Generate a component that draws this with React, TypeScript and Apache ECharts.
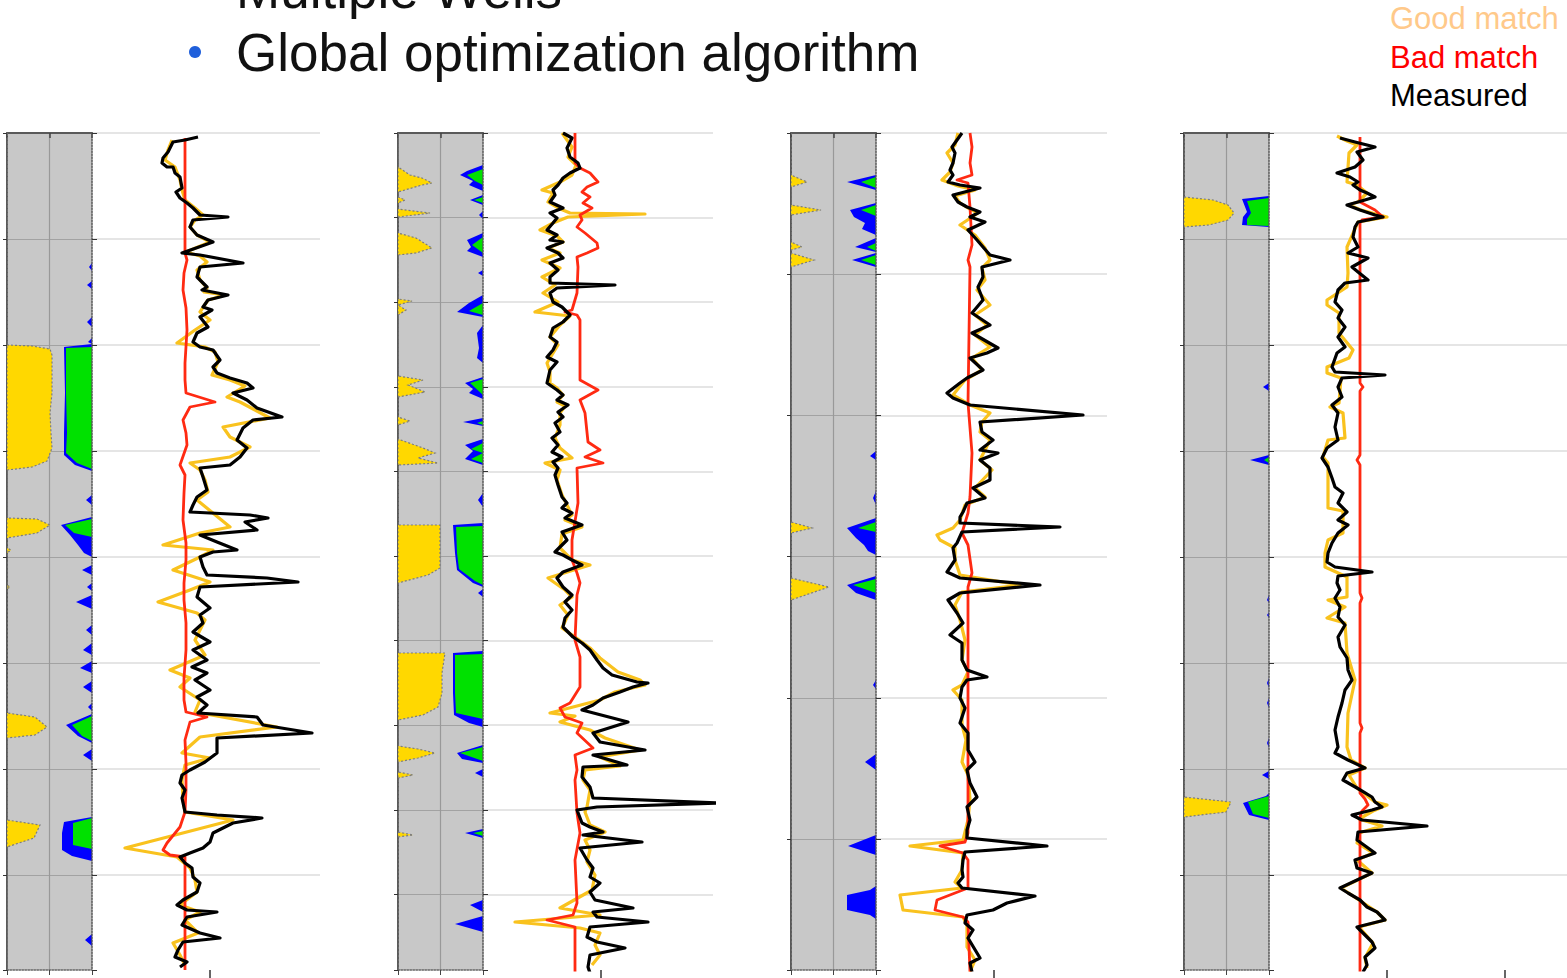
import React, { useEffect, useRef } from 'react';
import * as echarts from 'echarts';

// ---------------------------------------------------------------------------
// Log data. Depth is measured downward from the top of the logged interval
// (0..837). Log values are in track units (one vertical grid division = 118).
// Gray-track profiles are widths from the left edge (yellow) or from the right
// edge (blue / green) of an 85-unit wide track.
// ---------------------------------------------------------------------------

const depthMax = 837;
const depthStep = [106, 84.6, 141.2, 106];
const logMax = [228, 230, 231, 298];
const logStep = 118;
const grayMax = 85;

// ---- Well 1 ----
const w1Measured = [[106,4],[93,7],[81,9],[76,19],[71,25],[70,30],[75,34],[81,34],[83,40],[88,44],[90,55],[84,59],[88,65],[95,70],[101,75],[108,82],[136,84],[101,87],[98,94],[105,102],[121,109],[90,120],[108,122],[151,130],[108,134],[105,144],[115,154],[110,157],[136,162],[116,167],[111,174],[120,177],[108,184],[116,194],[105,200],[101,209],[108,214],[121,217],[128,227],[121,234],[125,240],[138,245],[155,250],[161,255],[141,260],[155,267],[165,275],[190,284],[161,287],[151,295],[145,307],[155,315],[148,324],[138,332],[108,335],[111,344],[115,357],[105,364],[101,372],[98,379],[158,382],[176,385],[153,389],[165,397],[108,402],[125,409],[145,417],[121,419],[108,424],[111,434],[115,442],[175,445],[206,449],[108,454],[105,464],[118,475],[108,482],[111,490],[101,499],[118,509],[101,517],[115,527],[100,534],[115,540],[103,547],[118,557],[105,564],[115,572],[106,580],[165,584],[171,592],[220,600],[125,605],[125,620],[113,629],[98,637],[90,642],[88,650],[93,657],[90,665],[93,679],[125,682],[170,685],[141,690],[121,700],[118,709],[111,715],[98,720],[88,724],[93,730],[100,735],[101,744],[108,750],[105,759],[91,767],[85,772],[95,777],[125,779],[95,784],[90,792],[108,800],[128,805],[91,809],[86,817],[83,824],[95,829],[88,834]];
const w1Good = [[80,7],[76,17],[73,27],[83,34],[88,47],[90,57],[93,67],[103,75],[111,82],[103,87],[98,94],[105,102],[118,109],[94,119],[108,123],[115,129],[105,137],[108,147],[115,155],[112,159],[133,162],[116,167],[108,179],[118,187],[103,197],[85,210],[113,214],[123,219],[126,229],[120,242],[138,247],[153,253],[135,264],[148,269],[163,277],[178,285],[131,294],[138,304],[158,314],[138,324],[98,330],[108,337],[113,347],[116,359],[105,367],[138,394],[108,400],[71,412],[121,417],[108,424],[81,437],[118,449],[98,457],[66,469],[105,480],[113,487],[103,507],[113,522],[78,537],[98,545],[88,554],[108,567],[103,579],[185,594],[108,604],[90,620],[118,625],[93,632],[90,647],[91,667],[93,679],[141,687],[33,715],[85,724],[98,735],[103,747],[105,759],[88,772],[108,779],[93,787],[106,800],[81,810],[88,822],[93,832]];
const w1Bad = [[93,5],[93,120],[95,127],[92,140],[91,157],[94,175],[95,197],[93,230],[93,247],[94,260],[123,269],[98,274],[91,287],[94,300],[95,312],[88,332],[93,342],[92,360],[91,387],[94,410],[94,427],[92,450],[92,467],[94,490],[94,517],[92,545],[92,567],[94,579],[115,584],[98,589],[93,607],[94,630],[94,657],[93,679],[88,694],[75,710],[71,717],[78,722],[93,724],[93,760],[93,837]];
const w1Yellow = [[0,0],[0,212],[25,213],[43,216],[45,222],[45,260],[43,280],[44,300],[45,315],[40,328],[25,334],[0,337],[0,385],[30,386],[43,392],[30,400],[0,405],[0,415],[4,417],[0,420],[0,452],[3,454],[0,456],[0,580],[28,584],[40,594],[28,602],[0,605],[0,687],[33,692],[27,705],[0,714],[0,837]];
const w1Blue = [[0,0],[0,130],[3,134],[0,138],[0,148],[5,152],[0,156],[0,184],[5,189],[0,194],[0,205],[4,209],[0,211],[28,214],[27,260],[28,300],[28,322],[17,332],[0,338],[0,362],[6,367],[0,372],[0,384],[31,392],[22,402],[14,412],[8,420],[0,424],[0,432],[10,437],[0,442],[0,450],[5,454],[0,458],[0,462],[16,469],[0,476],[0,492],[6,497],[0,502],[0,510],[9,517],[0,522],[0,528],[12,535],[0,540],[0,548],[9,554],[0,560],[0,570],[4,574],[0,578],[0,581],[26,592],[14,603],[0,610],[0,616],[9,622],[0,628],[0,684],[28,689],[30,700],[30,717],[20,723],[0,728],[0,801],[7,807],[0,813],[0,837]];
const w1Green = [[0,0],[0,214],[26,215],[26,260],[25,300],[26,320],[15,330],[0,336],[0,386],[27,392],[18,400],[0,404],[0,583],[20,592],[10,603],[0,608],[0,685],[19,690],[19,712],[0,716],[0,837]];

// ---- Well 2 ----
const w2Measured = [[80,0],[89,5],[84,15],[87,24],[95,30],[97,35],[87,40],[80,45],[75,52],[70,57],[72,62],[67,69],[80,75],[67,80],[74,85],[70,90],[64,97],[74,102],[67,107],[80,109],[64,115],[75,120],[80,125],[67,130],[75,137],[67,144],[67,150],[132,152],[74,155],[67,160],[70,169],[79,174],[87,182],[80,189],[70,195],[67,204],[74,209],[70,217],[64,224],[74,229],[67,237],[64,250],[74,257],[80,262],[74,267],[85,272],[75,279],[80,284],[72,290],[77,299],[69,305],[75,312],[69,319],[79,324],[70,329],[75,335],[72,342],[75,352],[79,364],[84,370],[79,375],[89,380],[82,385],[99,392],[79,399],[84,407],[72,419],[80,422],[89,427],[99,432],[80,439],[74,445],[80,454],[89,462],[82,469],[89,477],[82,485],[80,494],[90,504],[99,510],[107,517],[114,527],[120,535],[129,542],[154,549],[165,550],[150,554],[137,559],[120,565],[110,572],[99,577],[145,589],[110,600],[117,609],[162,617],[110,622],[144,632],[100,634],[99,644],[107,654],[110,665],[236,670],[114,674],[94,677],[99,690],[107,694],[120,699],[100,702],[159,709],[97,715],[104,727],[110,735],[107,744],[117,750],[107,759],[112,767],[150,775],[110,779],[114,784],[165,789],[107,794],[104,804],[114,809],[142,815],[107,822],[105,834],[107,840]];
const w2Good = [[79,0],[89,14],[85,24],[93,32],[89,42],[77,49],[59,57],[70,60],[65,69],[75,75],[87,80],[162,81],[85,84],[70,90],[57,97],[74,103],[80,109],[65,115],[77,120],[59,127],[77,135],[59,144],[72,152],[60,160],[75,169],[52,179],[87,183],[77,192],[67,204],[75,212],[64,230],[67,239],[67,250],[74,255],[80,262],[74,269],[82,273],[77,280],[77,292],[72,305],[77,315],[89,325],[62,330],[77,337],[74,347],[79,362],[84,372],[89,382],[82,387],[99,394],[79,401],[77,415],[89,427],[107,432],[65,445],[82,457],[89,464],[77,472],[85,482],[79,495],[92,504],[107,515],[117,525],[135,539],[157,547],[162,552],[132,559],[117,567],[67,580],[92,583],[77,589],[107,597],[122,605],[157,617],[117,624],[137,633],[102,637],[100,647],[107,657],[104,674],[102,679],[107,692],[122,699],[102,707],[107,717],[104,729],[112,742],[109,757],[77,775],[117,782],[32,789],[97,795],[117,800],[112,812],[117,822],[109,832]];
const w2Bad = [[92,0],[92,30],[97,35],[107,40],[115,49],[104,54],[99,59],[107,64],[100,70],[109,75],[97,82],[99,87],[94,94],[102,100],[114,110],[115,115],[104,120],[94,124],[95,134],[94,160],[89,177],[82,179],[94,182],[97,187],[97,247],[115,257],[97,267],[102,280],[105,309],[117,317],[102,324],[120,330],[94,335],[95,370],[89,407],[89,427],[94,440],[97,450],[94,462],[92,507],[97,524],[97,554],[87,570],[77,575],[82,584],[99,590],[94,600],[110,615],[92,622],[94,637],[92,647],[94,680],[97,700],[92,727],[94,770],[90,782],[64,787],[92,794],[92,840]];
const w2Yellow = [[0,0],[0,34],[12,42],[24,45],[34,50],[24,52],[0,59],[0,64],[7,67],[0,70],[0,76],[32,80],[0,84],[0,100],[18,105],[34,115],[18,120],[0,122],[0,166],[14,168],[0,172],[8,177],[0,182],[0,243],[25,247],[10,252],[27,259],[0,264],[0,284],[12,288],[0,292],[0,306],[25,315],[37,320],[20,325],[40,330],[0,332],[0,392],[42,392],[42,435],[30,442],[0,450],[0,520],[47,520],[44,540],[44,560],[40,574],[25,582],[0,587],[0,613],[20,616],[37,620],[20,625],[0,629],[0,639],[15,642],[0,645],[0,699],[15,702],[0,704],[0,837]];
const w2Blue = [[0,0],[0,32],[16,38],[23,42],[10,48],[14,52],[0,58],[0,62],[13,67],[0,72],[0,78],[4,82],[0,86],[0,100],[16,107],[12,114],[16,118],[0,124],[0,137],[5,140],[0,143],[0,162],[14,170],[26,179],[0,184],[0,192],[6,200],[4,215],[6,225],[0,230],[0,244],[18,250],[10,256],[14,260],[0,266],[0,285],[20,289],[0,293],[0,306],[18,312],[10,318],[18,326],[0,332],[0,360],[5,367],[0,374],[0,390],[30,392],[28,420],[26,437],[10,450],[0,454],[0,456],[5,460],[0,464],[0,518],[30,520],[30,560],[29,582],[14,590],[0,594],[0,612],[26,620],[21,626],[0,630],[0,636],[8,640],[0,644],[0,696],[18,700],[0,705],[0,767],[13,772],[0,779],[0,783],[28,791],[0,799],[0,837]];
const w2Green = [[0,0],[0,36],[16,42],[8,48],[0,52],[0,64],[9,67],[0,70],[0,104],[11,112],[0,120],[0,170],[14,178],[0,182],[0,246],[13,250],[0,262],[0,288],[6,290],[0,292],[0,310],[12,316],[0,320],[12,326],[0,330],[0,393],[27,394],[26,420],[24,436],[8,448],[0,452],[0,521],[28,522],[28,560],[27,580],[0,586],[0,614],[23,620],[0,628],[0,698],[10,700],[0,703],[0,837]];

// ---- Well 3 ----
const w3Measured = [[86,0],[81,7],[76,14],[79,20],[77,30],[74,37],[77,42],[72,49],[84,52],[104,55],[77,62],[82,69],[91,74],[104,79],[94,84],[109,89],[92,97],[101,107],[107,114],[114,122],[134,127],[106,134],[107,144],[102,154],[107,167],[96,180],[114,192],[96,200],[122,215],[111,220],[94,225],[107,237],[91,245],[84,250],[71,260],[77,265],[94,272],[207,282],[104,289],[106,299],[117,307],[104,317],[122,320],[104,327],[114,335],[114,347],[97,355],[109,365],[91,370],[87,379],[84,384],[84,390],[184,394],[86,399],[81,410],[77,415],[79,427],[71,439],[84,445],[164,452],[84,460],[72,467],[81,480],[87,490],[74,502],[86,510],[86,527],[91,537],[111,544],[91,547],[86,554],[84,565],[89,575],[84,590],[92,600],[92,617],[99,629],[91,637],[94,650],[101,664],[91,674],[94,687],[91,697],[91,705],[171,713],[89,719],[87,727],[86,737],[87,744],[82,750],[86,755],[159,763],[131,770],[117,777],[91,782],[89,790],[97,797],[92,805],[104,825],[94,830],[96,839]];
const w3Good = [[82,0],[79,12],[71,20],[77,30],[74,39],[66,47],[82,53],[99,57],[79,63],[84,70],[92,75],[102,80],[84,92],[99,102],[109,115],[114,127],[106,135],[109,147],[101,157],[114,172],[99,182],[111,192],[99,202],[114,214],[96,225],[106,237],[89,247],[77,262],[94,272],[114,280],[106,289],[104,299],[114,307],[104,327],[116,337],[99,355],[109,364],[89,372],[84,387],[77,395],[61,402],[64,407],[79,415],[79,427],[84,442],[144,452],[86,459],[79,472],[84,487],[89,507],[86,527],[92,539],[86,552],[77,557],[86,567],[86,592],[90,607],[86,629],[92,642],[94,667],[92,687],[87,707],[34,713],[87,720],[86,737],[79,749],[86,755],[24,762],[27,777],[87,784],[91,792],[91,814],[99,827],[94,839]];
const w3Bad = [[94,0],[96,14],[94,30],[96,42],[81,47],[92,50],[94,74],[96,112],[92,127],[94,134],[92,270],[96,320],[94,364],[92,380],[86,400],[92,412],[96,440],[92,454],[92,700],[89,709],[64,713],[87,720],[92,727],[92,755],[61,767],[59,777],[87,784],[92,789],[94,839]];
const w3Yellow = [[0,0],[0,42],[16,49],[0,54],[0,72],[30,77],[0,82],[0,109],[11,114],[0,117],[0,120],[23,127],[0,134],[0,389],[21,395],[0,400],[0,445],[38,454],[0,467],[0,837]];
const w3Blue = [[0,0],[0,42],[29,49],[0,57],[0,70],[26,77],[22,84],[11,90],[14,96],[0,102],[0,105],[21,114],[0,119],[0,120],[24,127],[0,134],[0,318],[6,323],[0,327],[0,358],[3,365],[0,372],[0,385],[29,395],[20,405],[12,412],[8,418],[0,422],[0,443],[29,452],[20,460],[0,467],[0,547],[3,552],[0,556],[0,621],[11,629],[0,637],[0,702],[28,713],[0,722],[0,753],[6,757],[29,762],[29,777],[6,782],[0,786],[0,837]];
const w3Green = [[0,0],[0,44],[15,49],[0,55],[0,72],[15,77],[0,83],[0,110],[9,114],[0,118],[0,122],[15,127],[0,132],[0,389],[18,395],[0,399],[0,446],[23,452],[0,460],[0,837]];

// ---- Well 4 ----
const w4Measured = [[71,5],[86,9],[106,14],[88,19],[94,27],[86,34],[68,40],[81,44],[89,49],[84,52],[91,57],[98,60],[106,64],[89,69],[78,72],[91,77],[106,82],[114,84],[89,89],[86,94],[84,104],[89,114],[79,120],[99,125],[83,134],[89,139],[99,147],[76,150],[69,157],[66,169],[73,177],[69,185],[76,194],[69,204],[76,214],[68,220],[63,234],[66,239],[116,242],[73,245],[69,254],[73,264],[63,272],[69,280],[66,294],[69,307],[58,315],[53,325],[59,334],[63,345],[66,354],[74,360],[69,370],[78,379],[69,387],[79,392],[69,400],[63,410],[59,420],[58,429],[66,434],[103,439],[69,443],[68,450],[71,457],[66,465],[71,474],[69,484],[76,492],[69,504],[71,514],[78,525],[79,537],[83,547],[76,557],[73,570],[69,584],[66,597],[69,614],[66,620],[79,627],[96,635],[78,640],[74,647],[88,655],[103,664],[106,669],[113,674],[103,677],[83,682],[93,687],[158,693],[89,699],[88,707],[106,720],[86,727],[88,735],[103,740],[71,755],[79,760],[91,767],[98,774],[108,779],[116,787],[88,794],[94,800],[103,809],[106,815],[96,824],[98,832],[94,839]];
const w4Good = [[68,3],[78,8],[88,12],[80,20],[78,49],[88,52],[98,60],[89,69],[80,72],[92,77],[118,84],[89,89],[78,114],[79,140],[78,154],[58,167],[58,172],[70,180],[70,200],[84,217],[80,225],[58,234],[58,240],[72,245],[70,270],[61,274],[74,280],[76,305],[59,307],[54,324],[59,330],[59,375],[74,378],[74,400],[59,407],[56,420],[56,434],[78,444],[78,464],[59,467],[76,474],[58,485],[76,490],[78,520],[86,547],[79,580],[78,614],[82,627],[96,635],[80,642],[88,655],[106,669],[118,672],[104,678],[90,686],[113,693],[90,700],[88,710],[104,720],[88,727],[103,740],[72,755],[90,767],[108,779],[116,787],[90,794],[104,810],[96,825],[98,835]];
const w4Bad = [[91,4],[91,69],[106,77],[114,84],[93,87],[91,90],[91,250],[94,254],[91,258],[91,322],[88,327],[91,332],[91,460],[93,465],[91,470],[91,590],[93,595],[91,600],[91,660],[96,666],[99,672],[93,678],[91,684],[91,839]];
const w4Yellow = [[0,0],[0,64],[29,67],[44,72],[50,80],[44,87],[25,92],[0,94],[0,664],[47,669],[42,679],[0,684],[0,837]];
const w4Blue = [[0,0],[0,63],[27,66],[22,79],[26,84],[27,92],[0,94],[0,250],[6,254],[0,258],[0,322],[19,327],[0,332],[0,462],[2,467],[0,470],[0,479],[2,482],[0,485],[0,545],[2,550],[0,555],[0,565],[2,570],[0,575],[0,605],[2,610],[0,615],[0,638],[7,642],[0,646],[0,660],[3,663],[26,670],[20,682],[0,687],[0,837]];
const w4Green = [[0,0],[0,65],[22,68],[18,80],[22,86],[22,92],[0,93],[0,324],[5,327],[0,330],[0,663],[21,669],[16,681],[0,685],[0,837]];

const legendLabels = ['Good match', 'Bad match', 'Measured'];
const headingLines = ['Multiple Wells', 'Global optimization algorithm'];

// ---------------------------------------------------------------------------
// Layout and styling
// ---------------------------------------------------------------------------
const TRACK_TOP = 133;
const TRACK_HEIGHT = 837;
const GRAY_LEFT = [7, 398, 791, 1184];
const LOG_LEFT = [92, 483, 876, 1269];

const COLORS = {
  good: '#F9C21E',
  bad: '#FF2A12',
  measured: '#000000',
  yellow: '#FFD800',
  green: '#00E100',
  blue: '#0000FF',
  gray: '#C8C8C8',
  legendGood: '#FFC98A',
  legendBad: '#FF0000',
};

const wells = [
  { measured: w1Measured, good: w1Good, bad: w1Bad, yellow: w1Yellow, blue: w1Blue, green: w1Green },
  { measured: w2Measured, good: w2Good, bad: w2Bad, yellow: w2Yellow, blue: w2Blue, green: w2Green },
  { measured: w3Measured, good: w3Good, bad: w3Bad, yellow: w3Yellow, blue: w3Blue, green: w3Green },
  { measured: w4Measured, good: w4Good, bad: w4Bad, yellow: w4Yellow, blue: w4Blue, green: w4Green },
];

// Filled profile drawn against the left (yellow) or right (blue/green) edge of the gray track
function profileSeries(profile: number[][], fromRight: boolean, fill: string, outline: boolean, xi: number, yi: number, z: number) {
  return {
    type: 'custom',
    xAxisIndex: xi,
    yAxisIndex: yi,
    silent: true,
    z,
    clip: true,
    data: [[0, 0]],
    renderItem: (_params: any, api: any) => {
      const points = profile.map(([w, d]) => api.coord([fromRight ? grayMax - w : w, d]));
      return {
        type: 'polygon',
        shape: { points },
        style: outline
          ? { fill, stroke: '#7d7d7d', lineWidth: 1.2, lineDash: [2, 2] }
          : { fill, stroke: null },
      };
    },
  };
}

function lineSeries(name: string, data: number[][], color: string, width: number, xi: number, yi: number, z: number) {
  return {
    type: 'line',
    name,
    xAxisIndex: xi,
    yAxisIndex: yi,
    data,
    z,
    silent: true,
    showSymbol: false,
    symbol: 'none',
    clip: true,
    lineStyle: { color, width, join: 'round' },
  };
}

function buildOption() {
  const grid: any[] = [];
  const xAxis: any[] = [];
  const yAxis: any[] = [];
  const series: any[] = [];

  wells.forEach((well, k) => {
    const gi = grid.length;
    grid.push({
      left: GRAY_LEFT[k], top: TRACK_TOP, width: grayMax, height: TRACK_HEIGHT,
      show: true, backgroundColor: COLORS.gray, borderWidth: 0,
    });
    grid.push({
      left: LOG_LEFT[k], top: TRACK_TOP, width: logMax[k], height: TRACK_HEIGHT,
      show: false,
    });

    // gray track axes
    const gx = xAxis.length;
    xAxis.push({
      gridIndex: gi, type: 'value', min: 0, max: grayMax, interval: grayMax / 2, position: 'bottom',
      axisLine: { show: true, onZero: false, lineStyle: { color: '#666', type: 'dotted', width: 1.5 } },
      axisTick: { show: true, length: 5, lineStyle: { color: '#444' } },
      axisLabel: { show: false },
      splitLine: { show: true, showMinLine: false, showMaxLine: false, lineStyle: { color: '#999', width: 1.2 } },
    });
    xAxis.push({
      gridIndex: gi, type: 'value', min: 0, max: grayMax, interval: grayMax / 2, position: 'top',
      axisLine: { show: true, onZero: false, lineStyle: { color: '#5a5a5a', width: 2 } },
      axisTick: { show: true, inside: true, length: 5, lineStyle: { color: '#444', width: 1.5 } },
      axisLabel: { show: false },
      splitLine: { show: false },
    });
    const gy = yAxis.length;
    yAxis.push({
      gridIndex: gi, type: 'value', inverse: true, min: 0, max: depthMax, interval: depthStep[k], position: 'left',
      axisLine: { show: true, onZero: false, lineStyle: { color: '#5a5a5a', width: 2 } },
      axisTick: { show: true, length: 4, lineStyle: { color: '#333' } },
      axisLabel: { show: false },
      splitLine: { show: true, showMinLine: false, showMaxLine: false, lineStyle: { color: '#a2a2a2', width: 1 } },
    });
    yAxis.push({
      gridIndex: gi, type: 'value', inverse: true, min: 0, max: depthMax, interval: depthStep[k], position: 'right',
      z: 10,
      axisLine: { show: true, onZero: false, lineStyle: { color: '#555555', type: 'dotted', width: 1.5 } },
      axisTick: { show: true, length: 5, lineStyle: { color: '#333' } },
      axisLabel: { show: false },
      splitLine: { show: false },
    });

    // log track axes
    const lx = xAxis.length;
    const tickValues = [];
    for (let v = logStep; v < logMax[k]; v += logStep) tickValues.push(v);
    xAxis.push({
      gridIndex: gi + 1, type: 'value', min: 0, max: logMax[k], interval: logStep, position: 'bottom',
      axisLine: { show: false, onZero: false },
      axisTick: { show: true, length: 8, customValues: tickValues, lineStyle: { color: '#333', width: 1.5 } },
      axisLabel: { show: false },
      splitLine: { show: true, showMinLine: false, showMaxLine: false, lineStyle: { color: '#dcdcdc', width: 1.5 } },
    });
    const ly = yAxis.length;
    yAxis.push({
      gridIndex: gi + 1, type: 'value', inverse: true, min: 0, max: depthMax, interval: depthStep[k],
      axisLine: { show: false, onZero: false },
      axisTick: { show: false },
      axisLabel: { show: false },
      splitLine: { show: true, showMaxLine: false, lineStyle: { color: '#dcdcdc', width: 1.5 } },
    });

    series.push(profileSeries(well.blue, true, COLORS.blue, false, gx, gy, 2));
    series.push(profileSeries(well.green, true, COLORS.green, false, gx, gy, 3));
    series.push(profileSeries(well.yellow, false, COLORS.yellow, true, gx, gy, 3));

    series.push(lineSeries(legendLabels[0], well.good, COLORS.good, 3.2, lx, ly, 4));
    series.push(lineSeries(legendLabels[1], well.bad, COLORS.bad, 2.8, lx, ly, 5));
    series.push(lineSeries(legendLabels[2], well.measured, COLORS.measured, 3.2, lx, ly, 6));
  });

  const textFont = "'Liberation Sans', Arial, sans-serif";
  const legendColors = [COLORS.legendGood, COLORS.legendBad, '#000'];
  const legendY = [18, 57, 95];

  const graphic: any[] = [
    {
      type: 'text', x: 236, y: -11,
      style: { text: headingLines[0], fontSize: 53, fontFamily: textFont, fill: '#111', align: 'left', verticalAlign: 'middle' },
    },
    {
      type: 'circle', shape: { cx: 195, cy: 52, r: 6 }, style: { fill: '#1F5FDB' },
    },
    {
      type: 'text', x: 236, y: 52,
      style: { text: headingLines[1], fontSize: 53, fontFamily: textFont, fill: '#111', align: 'left', verticalAlign: 'middle' },
    },
  ];
  legendLabels.forEach((label, i) => {
    graphic.push({
      type: 'text', x: 1390, y: legendY[i],
      style: { text: label, fontSize: 31, fontFamily: textFont, fill: legendColors[i], align: 'left', verticalAlign: 'middle' },
    });
  });

  return {
    animation: false,
    backgroundColor: '#ffffff',
    grid,
    xAxis,
    yAxis,
    series,
    graphic,
  };
}

export default function App() {
  const ref = useRef<HTMLDivElement>(null);

  useEffect(() => {
    document.body.style.margin = '0';
    document.body.style.overflow = 'hidden';
    if (!ref.current) return;
    const chart = echarts.init(ref.current, undefined, { renderer: 'svg' });
    chart.setOption(buildOption() as any);
    return () => {
      chart.dispose();
    };
  }, []);

  return <div ref={ref} style={{ width: 1567, height: 978 }} />;
}
